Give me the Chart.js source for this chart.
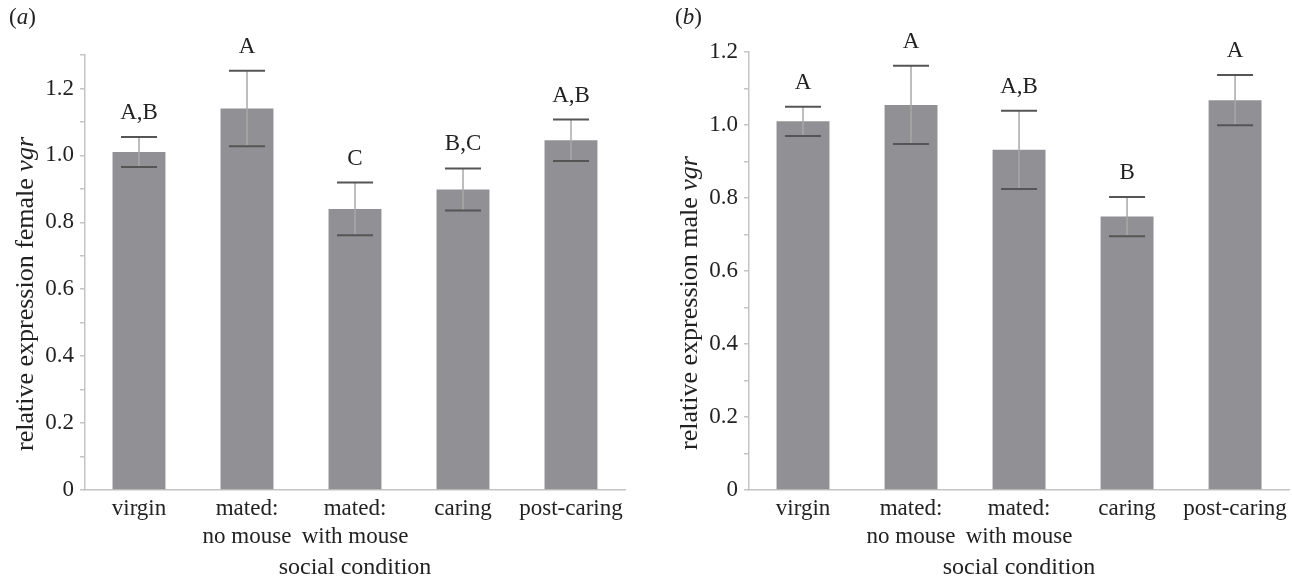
<!DOCTYPE html>
<html>
<head>
<meta charset="utf-8">
<script src="https://cdn.jsdelivr.net/npm/chart.js@4.4.1/dist/chart.umd.min.js"></script>
<style>
  html, body { margin: 0; padding: 0; background: #fff; }
  #wrap { position: relative; width: 1292px; height: 582px; overflow: hidden; }
  .panel { position: absolute; top: 0; width: 646px; height: 582px; }
  .tag { position: absolute; top: 4px; font: 23px "Liberation Serif", serif; color: #222; }
</style>
</head>
<body>
<div id="wrap">
  <div class="panel" style="left:0"><canvas id="femaleChart" width="646" height="582"></canvas></div>
  <div class="panel" style="left:646px"><canvas id="maleChart" width="646" height="582"></canvas></div>
  <div class="tag" style="left:9px">(<i>a</i>)</div>
  <div class="tag" style="left:675px">(<i>b</i>)</div>
</div>
<script>
  const categories = ['virgin', ['mated:', 'no mouse'], ['mated:', 'with mouse'], 'caring', 'post-caring'];

  // panel (a) female
  const femaleMeans = [1.01, 1.14, 0.84, 0.898, 1.045];
  const femaleErrors = [0.045, 0.113, 0.079, 0.063, 0.062];
  const femaleLetters = ['A,B', 'A', 'C', 'B,C', 'A,B'];

  // panel (b) male
  const maleMeans = [1.01, 1.055, 0.932, 0.749, 1.068];
  const maleErrors = [0.04, 0.107, 0.107, 0.054, 0.069];
  const maleLetters = ['A', 'A', 'A,B', 'B', 'A'];

  const SERIF = '"Liberation Serif", "Times New Roman", serif';
  const BAR = '#909095';
  const AXIS = '#c4c4c4';

  // error bars and significance letters on top of the bars
  const errorBarPlugin = {
    id: 'errorBars',
    afterDatasetsDraw(chart, args, opts) {
      const ctx = chart.ctx;
      const y = chart.scales.y;
      const meta = chart.getDatasetMeta(0);
      meta.data.forEach((bar, i) => {
        const top = y.getPixelForValue(opts.means[i] + opts.errors[i]);
        const bottom = y.getPixelForValue(opts.means[i] - opts.errors[i]);
        ctx.save();
        ctx.strokeStyle = '#a8a8a8';
        ctx.lineWidth = 1.5;
        ctx.beginPath();
        ctx.moveTo(bar.x, top);
        ctx.lineTo(bar.x, bottom);
        ctx.stroke();
        ctx.strokeStyle = '#555';
        ctx.lineWidth = 2;
        ctx.beginPath();
        ctx.moveTo(bar.x - 18, top);
        ctx.lineTo(bar.x + 18, top);
        ctx.moveTo(bar.x - 18, bottom);
        ctx.lineTo(bar.x + 18, bottom);
        ctx.stroke();
        ctx.fillStyle = '#222';
        ctx.font = '23px ' + SERIF;
        ctx.textAlign = 'center';
        ctx.textBaseline = 'middle';
        ctx.fillText(opts.letters[i], bar.x, top - 24);
        ctx.restore();
      });
    }
  };

  // rotated y title with italic gene name
  const yTitlePlugin = {
    id: 'yTitle',
    afterDraw(chart, args, opts) {
      const ctx = chart.ctx;
      const regular = '26px ' + SERIF;
      const italic = 'italic 26px ' + SERIF;
      ctx.save();
      ctx.translate(opts.x, opts.y);
      ctx.rotate(-Math.PI / 2);
      ctx.font = regular;
      const w1 = ctx.measureText(opts.text).width;
      ctx.font = italic;
      const w2 = ctx.measureText(opts.italic).width;
      ctx.fillStyle = '#222';
      ctx.textBaseline = 'middle';
      ctx.textAlign = 'left';
      const start = -(w1 + w2) / 2;
      ctx.font = regular;
      ctx.fillText(opts.text, start, 0);
      ctx.font = italic;
      ctx.fillText(opts.italic, start + w1, 0);
      ctx.restore();
    }
  };

  function makeChart(canvasId, means, errors, letters, cfg) {
    const ctx = document.getElementById(canvasId).getContext('2d');
    return new Chart(ctx, {
      type: 'bar',
      data: {
        labels: categories,
        datasets: [{
          data: means,
          backgroundColor: BAR,
          borderWidth: 0,
          barPercentage: 0.49,
          categoryPercentage: 1
        }]
      },
      options: {
        responsive: false,
        animation: false,
        layout: { padding: { left: 0, right: cfg.padRight, top: cfg.padTop, bottom: 0 } },
        plugins: {
          legend: { display: false },
          tooltip: { enabled: false },
          errorBars: { means, errors, letters },
          yTitle: { text: cfg.title, italic: 'vgr', x: cfg.titleX, y: cfg.titleY }
        },
        scales: {
          x: {
            afterFit: scale => { scale.height = 92; },
            grid: { display: false, drawTicks: false },
            border: { color: AXIS, width: 1.5 },
            ticks: { color: '#222', font: { family: SERIF, size: 23, lineHeight: 1.22 }, padding: 5, maxRotation: 0, autoSkip: false },
            title: { display: true, text: 'social condition', color: '#222', font: { family: SERIF, size: 24 }, padding: 0 }
          },
          y: {
            min: 0,
            max: cfg.max,
            afterFit: scale => { scale.width = cfg.axisLeft; },
            grid: { drawOnChartArea: false, drawTicks: true, tickLength: 5, color: AXIS, lineWidth: 1.5 },
            border: { color: AXIS, width: 1.5 },
            ticks: {
              stepSize: 0.1,
              autoSkip: false,
              padding: 6,
              color: '#222',
              font: { family: SERIF, size: 23 },
              callback: v => {
                const r = Math.round(v * 10);
                if (r % 2 !== 0) return '';
                return r === 0 ? '0' : (r / 10).toFixed(1);
              }
            }
          }
        }
      },
      plugins: [errorBarPlugin, yTitlePlugin]
    });
  }

  makeChart('femaleChart', femaleMeans, femaleErrors, femaleLetters, {
    max: 1.3, axisLeft: 85, padTop: 55, padRight: 21,
    title: 'relative expression female ', titleX: 26, titleY: 294
  });
  makeChart('maleChart', maleMeans, maleErrors, maleLetters, {
    max: 1.2, axisLeft: 103, padTop: 52, padRight: 2,
    title: 'relative expression male ', titleX: 44, titleY: 303
  });
</script>
</body>
</html>
